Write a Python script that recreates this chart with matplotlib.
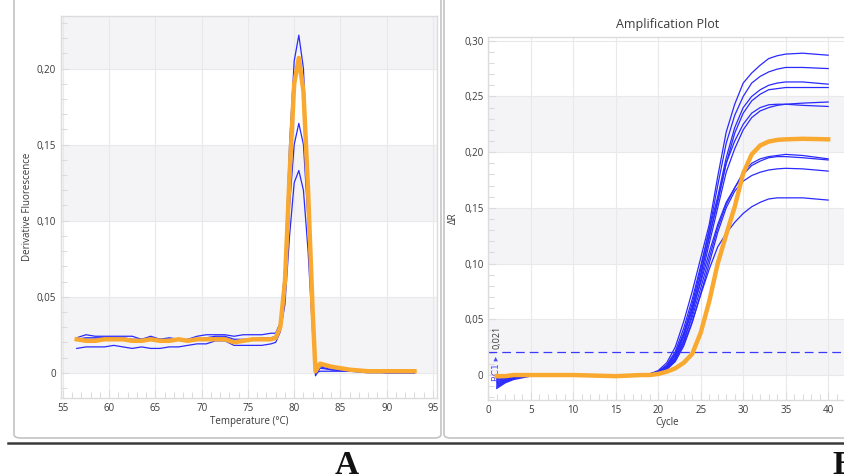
import matplotlib
matplotlib.use("Agg")
import matplotlib.pyplot as plt
from matplotlib.patches import FancyBboxPatch
from matplotlib.ticker import MultipleLocator, FuncFormatter
from matplotlib.lines import Line2D

plt.rcParams['font.family'] = ['Open Sans', 'DejaVu Sans']

# ---------------- Data: melt curve (panel A) ----------------
temp = [56.5, 57.5, 58.5, 59.5, 60.5, 61.5, 62.5, 63.5, 64.5, 65.5, 66.5, 67.5,
        68.5, 69.5, 70.5, 71.5, 72.5, 73.5, 74.5, 75.5, 76.5, 77.5, 78.0, 78.5,
        79.0, 79.5, 80.0, 80.5, 81.0, 81.5, 82.0, 82.3, 82.8, 84.0, 86.0, 88.0,
        90.0, 93.0]
melt_blue1 = [0.023, 0.025, 0.024, 0.024, 0.024, 0.024, 0.024, 0.022, 0.024, 0.022, 0.023, 0.022,
              0.022, 0.024, 0.025, 0.025, 0.025, 0.024, 0.025, 0.025, 0.025, 0.026, 0.026, 0.033,
              0.070, 0.150, 0.205, 0.222, 0.200, 0.130, 0.040, -0.002, 0.003, 0.002, 0.001, 0.001,
              0.000, 0.000]
melt_blue2 = [0.022, 0.023, 0.023, 0.023, 0.023, 0.023, 0.022, 0.022, 0.023, 0.022, 0.022, 0.022,
              0.021, 0.022, 0.023, 0.024, 0.024, 0.022, 0.022, 0.022, 0.023, 0.023, 0.024, 0.030,
              0.050, 0.110, 0.150, 0.164, 0.150, 0.100, 0.030, 0.000, 0.004, 0.002, 0.001, 0.001,
              0.000, 0.000]
melt_blue3 = [0.016, 0.017, 0.017, 0.017, 0.018, 0.017, 0.016, 0.017, 0.016, 0.016, 0.017, 0.017,
              0.018, 0.019, 0.019, 0.021, 0.021, 0.018, 0.018, 0.018, 0.018, 0.019, 0.020, 0.027,
              0.045, 0.090, 0.125, 0.133, 0.120, 0.080, 0.025, 0.000, 0.001, 0.001, 0.001, 0.000,
              0.000, 0.000]
melt_blue4 = [0.022, 0.022, 0.022, 0.022, 0.022, 0.022, 0.021, 0.021, 0.022, 0.021, 0.021, 0.022,
              0.021, 0.022, 0.022, 0.023, 0.023, 0.021, 0.021, 0.022, 0.022, 0.022, 0.023, 0.030,
              0.060, 0.128, 0.188, 0.205, 0.185, 0.118, 0.038, 0.001, 0.005, 0.003, 0.002, 0.001,
              0.001, 0.001]
melt_orange = [0.022, 0.021, 0.021, 0.022, 0.022, 0.022, 0.021, 0.021, 0.022, 0.021, 0.021, 0.022,
               0.021, 0.022, 0.022, 0.022, 0.022, 0.020, 0.021, 0.022, 0.022, 0.022, 0.023, 0.030,
               0.060, 0.130, 0.190, 0.207, 0.185, 0.120, 0.040, 0.001, 0.006, 0.004, 0.002, 0.001,
               0.001, 0.001]
melt_blues = [melt_blue1, melt_blue2, melt_blue3, melt_blue4]

# ---------------- Data: amplification (panel B) ----------------
cycles = [1, 2, 3, 5, 10, 15, 18, 19, 20, 21, 22, 23, 24, 25, 26, 27, 28, 29, 30,
          31, 32, 33, 34, 35, 37, 40]
amp_blue = [
    [-0.004, -0.003, -0.002, 0.0, 0.0, 0.0, 0.0, 0.001, 0.004, 0.011, 0.025, 0.048, 0.075, 0.105,
     0.135, 0.178, 0.218, 0.243, 0.262, 0.271, 0.278, 0.284, 0.2865, 0.288, 0.2888, 0.287],
    [-0.006, -0.004, -0.002, 0.0, 0.0, 0.0, 0.0, 0.001, 0.003, 0.009, 0.021, 0.042, 0.068, 0.098,
     0.130, 0.170, 0.208, 0.233, 0.250, 0.262, 0.268, 0.272, 0.2745, 0.276, 0.276, 0.275],
    [-0.008, -0.005, -0.003, 0.0, 0.0, 0.0, 0.0, 0.001, 0.003, 0.008, 0.019, 0.038, 0.064, 0.095,
     0.130, 0.160, 0.195, 0.222, 0.240, 0.250, 0.256, 0.260, 0.262, 0.263, 0.263, 0.261],
    [-0.010, -0.006, -0.003, 0.0, 0.0, 0.0, 0.0, 0.001, 0.003, 0.008, 0.018, 0.036, 0.060, 0.090,
     0.125, 0.155, 0.190, 0.217, 0.235, 0.246, 0.252, 0.256, 0.257, 0.258, 0.258, 0.258],
    [-0.005, -0.003, -0.002, 0.0, 0.0, 0.0, 0.0, 0.001, 0.002, 0.006, 0.014, 0.030, 0.055, 0.085,
     0.118, 0.150, 0.182, 0.203, 0.220, 0.231, 0.237, 0.240, 0.242, 0.243, 0.244, 0.245],
    [-0.012, -0.007, -0.004, -0.001, 0.0, 0.0, 0.0, 0.001, 0.003, 0.007, 0.016, 0.034, 0.060, 0.090,
     0.123, 0.157, 0.190, 0.210, 0.225, 0.235, 0.240, 0.2425, 0.243, 0.243, 0.242, 0.241],
    [-0.007, -0.004, -0.002, 0.0, 0.0, 0.0, 0.0, 0.001, 0.003, 0.008, 0.018, 0.036, 0.058, 0.083,
     0.110, 0.135, 0.155, 0.168, 0.182, 0.190, 0.194, 0.196, 0.197, 0.198, 0.197, 0.194],
    [-0.009, -0.005, -0.003, 0.0, 0.0, 0.0, 0.0, 0.001, 0.002, 0.006, 0.015, 0.031, 0.052, 0.078,
     0.105, 0.132, 0.153, 0.168, 0.180, 0.188, 0.192, 0.195, 0.196, 0.196, 0.195, 0.193],
    [-0.011, -0.006, -0.003, 0.0, 0.0, 0.0, 0.0, 0.001, 0.002, 0.005, 0.012, 0.026, 0.047, 0.073,
     0.100, 0.128, 0.150, 0.165, 0.174, 0.179, 0.182, 0.184, 0.185, 0.1855, 0.185, 0.183],
    [-0.003, -0.002, -0.001, 0.0, 0.0, 0.0, 0.0, 0.001, 0.002, 0.005, 0.013, 0.028, 0.048, 0.072,
     0.095, 0.115, 0.127, 0.137, 0.145, 0.151, 0.155, 0.158, 0.159, 0.159, 0.159, 0.157],
]
amp_orange = [-0.001, -0.001, 0.0, 0.0, 0.0, -0.001, 0.0, 0.0, 0.001, 0.003, 0.006, 0.011,
              0.019, 0.038, 0.066, 0.100, 0.126, 0.151, 0.181, 0.198, 0.206, 0.2095, 0.211,
              0.2115, 0.212, 0.2115]
threshold = 0.021

# ---------------- Style ----------------
W, H = 845, 474
BLUE = '#2a2aff'
ORANGE = '#f9a92f'
BAND = '#f4f4f6'
GRID = '#e9e9ec'
SPINE = '#dcdcdf'
TXT = '#3a3a3a'

fig = plt.figure(figsize=(W / 100, H / 100), dpi=100)
fig.patch.set_facecolor('white')


def px_axes(x0, y0, x1, y1):
    ax = fig.add_axes([x0 / W, 1 - y1 / H, (x1 - x0) / W, (y1 - y0) / H])
    ax.set_zorder(5)
    return ax


# panel frames
for (x0, x1) in [(14, 441), (444, 880)]:
    fb = FancyBboxPatch((x0 / W, 1 - 438 / H), (x1 - x0) / W, (438 + 30) / H,
                        boxstyle="round,pad=0,rounding_size=0.008",
                        transform=fig.transFigure, facecolor='white',
                        edgecolor='#c4c4c4', linewidth=1.2, zorder=-5)
    fig.patches.append(fb)

fig.add_artist(Line2D([8 / W, 1], [1 - 443 / H, 1 - 443 / H], transform=fig.transFigure,
                      color='#3a3a3a', linewidth=1.8, zorder=1))


def style_axes(ax, ymin, ymax, bands):
    ax.set_facecolor('white')
    for b0, b1 in bands:
        ax.axhspan(b0, b1, color=BAND, zorder=0, lw=0)
    for s in ax.spines.values():
        s.set_color(SPINE)
        s.set_linewidth(1.0)
    ax.tick_params(which='both', direction='in', colors=SPINE, labelcolor=TXT, labelsize=7)
    ax.tick_params(which='major', length=6, width=0.8)
    ax.tick_params(which='minor', length=4, width=0.8)
    ax.grid(True, axis='x', which='major', color=GRID, lw=0.8, zorder=0.5)
    ax.grid(True, axis='y', which='major', color=GRID, lw=0.8, zorder=0.5)
    ax.set_ylim(ymin, ymax)


comma = FuncFormatter(lambda v, p: '0' if abs(v) < 1e-9 else f"{v:.2f}".replace('.', ','))

# ---------------- Panel A ----------------
axA = px_axes(61, 16, 436.7, 398.3)
style_axes(axA, -0.0168, 0.2346, [(0.0, 0.05), (0.10, 0.15), (0.20, 0.2346)])
axA.set_xlim(54.8, 95.4)
axA.xaxis.set_major_locator(MultipleLocator(5))
axA.xaxis.set_minor_locator(MultipleLocator(1))
axA.yaxis.set_major_locator(MultipleLocator(0.05))
axA.yaxis.set_minor_locator(MultipleLocator(0.01))
axA.yaxis.set_major_formatter(comma)
axA.set_xlabel('Temperature (°C)', fontsize=7, color=TXT, labelpad=1)
axA.set_ylabel('Derivative Fluorescence', fontsize=7, color=TXT, labelpad=3)
for yb in melt_blues:
    axA.plot(temp, yb, color=BLUE, lw=0.9, zorder=3)
axA.plot(temp, melt_orange, color=ORANGE, lw=3.2, zorder=4, solid_joinstyle='round')

# ---------------- Panel B ----------------
axB = px_axes(488.3, 36.7, 846, 400)
style_axes(axB, -0.0224, 0.3036, [(0.0, 0.05), (0.10, 0.15), (0.20, 0.25)])
axB.set_xlim(0, 42.1)
axB.xaxis.set_major_locator(MultipleLocator(5))
axB.xaxis.set_minor_locator(MultipleLocator(1))
axB.yaxis.set_major_locator(MultipleLocator(0.05))
axB.yaxis.set_minor_locator(MultipleLocator(0.01))
axB.yaxis.set_major_formatter(comma)
axB.spines['right'].set_visible(False)
axB.set_xlabel('Cycle', fontsize=7, color=TXT, labelpad=1)
axB.set_ylabel('ΔR', fontsize=7, color=TXT, labelpad=4)
axB.set_title('Amplification Plot', fontsize=9, color=TXT, pad=6)
for yb in amp_blue:
    axB.plot(cycles, yb, color=BLUE, lw=0.9, zorder=3)
axB.plot(cycles, amp_orange, color=ORANGE, lw=3.2, zorder=4, solid_joinstyle='round')
axB.axhline(threshold, color='#3a3aff', lw=0.9, ls=(0, (7, 4)), zorder=2)
axB.text(1.0, threshold + 0.002, '0,021', rotation=90, fontsize=6.5, color=TXT,
         ha='center', va='bottom')
axB.text(1.0, threshold - 0.004, 'RC1 ▸', rotation=90, fontsize=6.5, color='#4a4aff',
         ha='center', va='top', family=['DejaVu Sans'])

# ---------------- Panel letters ----------------
fig.text(347 / W, 1 - 465 / H, 'A', fontsize=24, fontweight='bold',
         family='Liberation Serif', ha='center', va='center', color='#111111')
fig.text(832 / W, 1 - 465 / H, 'B', fontsize=24, fontweight='bold',
         family='Liberation Serif', ha='left', va='center', color='#111111')

fig.savefig('out.png', dpi=100, facecolor='white')
